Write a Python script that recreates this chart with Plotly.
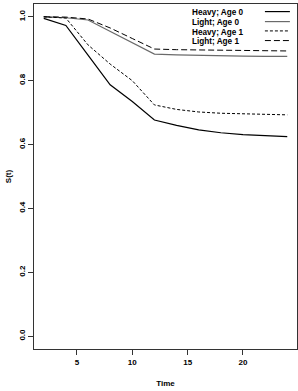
import plotly.graph_objects as go

time = [2, 4, 6, 8, 10, 12, 14, 16, 18, 20, 22, 24]
heavy_age0 = [0.995, 0.973, 0.880, 0.787, 0.735, 0.677, 0.660, 0.646, 0.637, 0.631, 0.628, 0.625]
light_age0 = [1.000, 0.997, 0.990, 0.955, 0.920, 0.883, 0.881, 0.879, 0.878, 0.877, 0.876, 0.876]
heavy_age1 = [1.000, 0.996, 0.912, 0.852, 0.800, 0.724, 0.710, 0.702, 0.698, 0.696, 0.694, 0.693]
light_age1 = [1.000, 0.999, 0.993, 0.965, 0.932, 0.899, 0.897, 0.896, 0.895, 0.894, 0.893, 0.893]

labels = ["Heavy; Age 0", "Light; Age 0", "Heavy; Age 1", "Light; Age 1"]
series = [heavy_age0, light_age0, heavy_age1, light_age1]
styles = [
    dict(color="black", width=1.2, dash="solid"),
    dict(color="#6a6a6a", width=1.2, dash="solid"),
    dict(color="black", width=1.0, dash="3px,2px"),
    dict(color="black", width=1.0, dash="6px,3px"),
]

fig = go.Figure()
for name, ys, st in zip(labels, series, styles):
    fig.add_trace(go.Scatter(x=time, y=ys, mode="lines", name=name, line=st,
                             showlegend=False))

font = dict(family="Liberation Sans, Arial, sans-serif", size=8, color="black", weight="bold")

# legend (text left, sample line right), as in the R-style original
leg_y = [0.974, 0.945, 0.918, 0.890]
for name, st, yy in zip(labels, styles, leg_y):
    fig.add_annotation(x=0.595, y=yy, xref="paper", yref="paper", text=name,
                       showarrow=False, xanchor="left", yanchor="middle",
                       font=dict(family="Liberation Sans, Arial, sans-serif", size=8.2,
                                 color="black", weight="bold"))
    fig.add_shape(type="line", xref="paper", yref="paper", x0=0.878, x1=0.973,
                  y0=yy + 0.004, y1=yy + 0.004, line=st)

fig.update_layout(
    width=298, height=391,
    margin=dict(l=34, r=1, t=4, b=42),
    paper_bgcolor="white", plot_bgcolor="white",
    font=font,
    showlegend=False,
    xaxis=dict(range=[1.12, 24.88], tickvals=[5, 10, 15, 20], ticks="outside",
               ticklen=5, tickwidth=1, tickcolor="#333", showgrid=False, zeroline=False,
               showline=True, linecolor="#333", linewidth=1, mirror=True,
               title=dict(text="Time", font=font, standoff=14),
               tickfont=font),
    yaxis=dict(range=[-0.04, 1.04], tickvals=[0, 0.2, 0.4, 0.6, 0.8, 1.0],
               ticktext=["0.0", "0.2", "0.4", "0.6", "0.8", "1.0"], tickangle=-90,
               ticks="outside", ticklen=5, tickwidth=1, tickcolor="#333",
               showgrid=False, zeroline=False,
               showline=True, linecolor="#333", linewidth=1, mirror=True,
               title=dict(text="S(t)", font=font, standoff=4),
               tickfont=font),
)

fig.write_html("out.html")
